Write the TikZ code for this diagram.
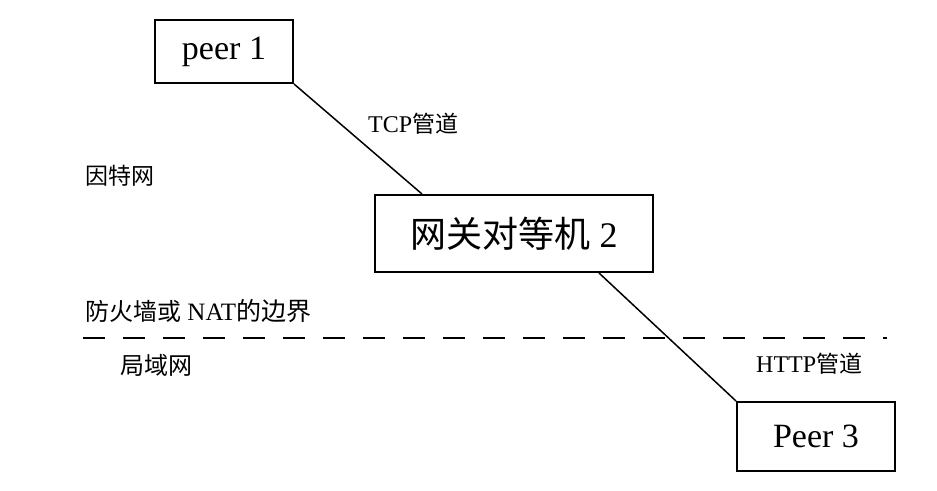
\documentclass[tikz,border=0pt]{standalone}
\usepackage{fontspec}
\setmainfont{Liberation Serif}
\newfontfamily\cjk{Noto Sans CJK SC}
\usetikzlibrary{calc}
\begin{document}
\begin{tikzpicture}[x=1pt,y=-1pt,
  peerbox/.style={draw, line width=2pt, inner sep=0pt, minimum width=#1},
  lbl/.style={inner sep=0pt, anchor=west},
  wire/.style={line width=1.5pt},
  border/.style={line width=2.2pt, dash pattern=on 22pt off 18pt}]
\useasboundingbox[fill=white] (0,0) rectangle (937,490);
\node[peerbox=138pt, minimum height=63pt, font=\fontsize{34}{36}\selectfont] (p1) at (224,51.5) {peer 1};
\node[peerbox=278pt, minimum height=77pt, font=\fontsize{36}{40}\selectfont] (gw) at (514,233.5) {{\cjk 网关对等机} 2};
\node[peerbox=158pt, minimum height=69pt, font=\fontsize{34}{36}\selectfont] (p3) at (816,436.5) {Peer 3};
\node[lbl, font=\fontsize{24}{26}\selectfont] (tcp) at (368,124) {TCP{\cjk\fontsize{23}{26}\selectfont 管道}};
\node[lbl, font=\fontsize{23}{26}\selectfont\cjk] (inet) at (85,176) {因特网};
\node[lbl, font=\fontsize{25}{27}\selectfont] (fw) at (85,311) {{\cjk\fontsize{24}{27}\selectfont 防火墙或} NAT{\cjk 的边界}};
\node[lbl, font=\fontsize{24}{27}\selectfont\cjk] (lan) at (120,365) {局域网};
\node[lbl, font=\fontsize{24}{26}\selectfont] (http) at (756,364) {HTTP{\cjk\fontsize{23}{26}\selectfont 管道}};
\coordinate (dl) at (83,338);
\coordinate (dr) at (887,338);
\draw[border] (dl) -- (dr);
\draw[wire] (p1.south east) -- ($(gw.north west)+(48,0)$);
\draw[wire] ($(gw.south west)+(225,0)$) -- (p3.north west);
\end{tikzpicture}
\end{document}
